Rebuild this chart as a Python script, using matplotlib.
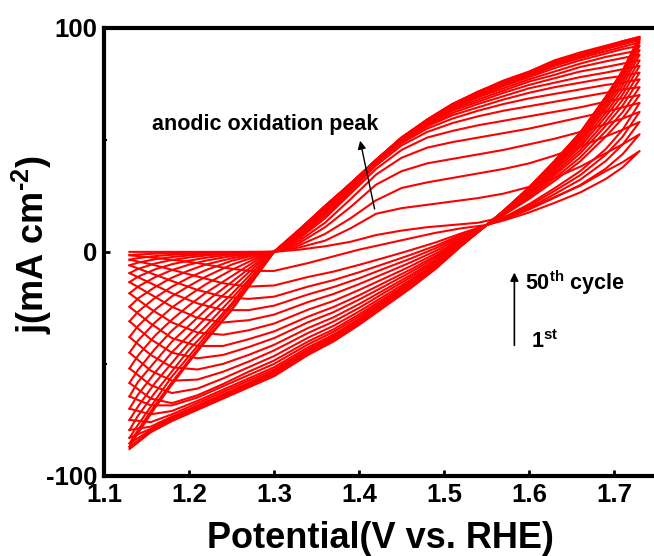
import matplotlib
matplotlib.use('Agg')
import matplotlib.pyplot as plt
from matplotlib.ticker import FixedLocator

plt.rcParams['font.family'] = ['Liberation Sans', 'DejaVu Sans']
plt.rcParams['font.weight'] = 'bold'
plt.rcParams['axes.unicode_minus'] = False
plt.rcParams['mathtext.fontset'] = 'custom'
plt.rcParams['mathtext.rm'] = 'Liberation Sans:bold'
plt.rcParams['mathtext.it'] = 'Liberation Sans:bold'
plt.rcParams['mathtext.bf'] = 'Liberation Sans:bold'
plt.rcParams['mathtext.default'] = 'rm'

# potentials (V vs RHE) of the read-off points
E_fwd_low = [1.13, 1.14, 1.16, 1.18, 1.20, 1.22, 1.25, 1.28]
E_fwd_high = [1.30, 1.33, 1.36, 1.39, 1.42, 1.45, 1.48, 1.51, 1.54, 1.57,
              1.60, 1.63, 1.66, 1.69, 1.71, 1.73]
E_rev_high = [1.73, 1.71, 1.69, 1.66, 1.63, 1.60, 1.57, 1.55]
E_rev_mid = [1.52, 1.49, 1.46, 1.43, 1.40, 1.37, 1.34, 1.30]
E_rev_low = [1.27, 1.24, 1.21, 1.18, 1.155, 1.13]

# current density (mA cm-2), one row per plotted cycle, 1st -> 50th
# anodic sweep 1.13 - 1.28 V
fwd_low = [
    [0, 0, 0, 0, 0, 0, 0, 0],
    [-1.5, -1.2, -0.8, -0.6, -0.4, -0.3, -0.1, 0],
    [-3.5, -2.8, -1.9, -1.3, -0.9, -0.6, -0.3, -0.1],
    [-6, -4.8, -3.3, -2.3, -1.6, -1, -0.5, -0.1],
    [-9.5, -7.6, -5.2, -3.6, -2.5, -1.6, -0.8, -0.2],
    [-13.5, -11.1, -7.8, -5.5, -3.9, -2.6, -1.2, -0.3],
    [-18.5, -15.5, -11.3, -8.1, -5.7, -3.9, -1.9, -0.6],
    [-24.5, -20.8, -15.7, -11.5, -8.3, -5.6, -2.9, -0.7],
    [-31, -26.7, -20.5, -15.5, -11.5, -8.1, -4, -1.2],
    [-38, -33.1, -25.8, -19.8, -15.2, -11, -5.7, -1.9],
    [-45, -39.6, -31.5, -24.8, -19.4, -14.4, -8.1, -2.7],
    [-52, -46.3, -37.4, -30.2, -23.9, -18.2, -10.9, -3.6],
    [-58.5, -52.7, -43.3, -35.1, -28.7, -22.2, -13.5, -4.7],
    [-64.5, -58, -49, -40, -32.9, -25.8, -16.1, -5.8],
    [-70, -63.7, -53.9, -44.8, -37.1, -29.4, -18.9, -7],
    [-75, -69, -58.5, -49.5, -40.5, -33, -21, -8.3],
    [-79.5, -73.1, -62.8, -53.3, -43.7, -35.8, -23.1, -8.7],
    [-83, -77.2, -66.4, -55.6, -46.5, -37.4, -24.1, -10],
    [-85.5, -79.5, -68.4, -58.1, -48.3, -38.9, -25.7, -10.3],
    [-87, -80.9, -69.6, -59.2, -49.2, -39.6, -26.1, -10.4],
]

# anodic sweep 1.30 - 1.73 V
fwd_high = [
    [0, 1, 2.5, 4.5, 7.5, 9.5, 11, 12, 13, 15.5, 19.5, 24.5, 29.5, 36, 40, 45],
    [0, 2, 5, 10.5, 17, 19.5, 21, 22.5, 24, 26, 29, 33, 38, 44, 48, 52.5],
    [0, 3, 8, 15, 23, 28.5, 31, 33, 35, 37, 39.5, 43, 47, 51.5, 54.5, 58],
    [0, 4, 11, 20, 30, 36, 39.5, 41.5, 43.5, 45.5, 48, 50.5, 53.5, 57, 59.5, 62.5],
    [0, 5, 13, 23.5, 34.5, 42, 46.5, 49, 51, 53, 55, 57.5, 60, 62.5, 64.5, 66.5],
    [0, 6, 15, 26, 37, 45.5, 51, 54, 56.5, 58.5, 60.5, 62.5, 64.5, 67, 68.5, 70],
    [0, 6.5, 16, 27, 38.5, 47.5, 53.5, 57.5, 60.5, 63, 65, 67, 69, 71, 72.5, 73.5],
    [0, 7, 17, 28, 39.5, 48.5, 55, 59.5, 63, 66, 68.5, 70.5, 72.5, 74.5, 75.5, 77],
    [0, 7.5, 17.5, 28.5, 40, 49, 56, 61, 64.5, 68, 71, 73.5, 75.5, 77.5, 78.5, 80],
    [0, 8, 18, 29, 40, 49.5, 56.5, 62, 66, 69.5, 73, 75.5, 78, 80, 81.5, 83],
    [0, 8.5, 18.5, 29.5, 40.5, 50, 57, 63, 67, 71, 74.5, 77.5, 80.5, 82.5, 84, 85.5],
    [0, 9, 19, 29.5, 40.5, 50, 57.5, 63.5, 68, 72, 76, 79, 82.5, 85, 86.5, 88],
    [0, 9, 19.5, 30, 40.5, 50.5, 58, 64, 69, 73, 77, 80.5, 84, 87, 88.5, 90],
    [0, 9.5, 19.5, 30, 41, 50.5, 58, 64.5, 69.5, 74, 78, 82, 85.5, 88.5, 90.5, 92],
    [0, 9.5, 20, 30, 41, 50.5, 58.5, 65, 70, 74.5, 78.5, 83, 86.5, 89.5, 91.5, 93.5],
    [0, 9.5, 20, 30.5, 41, 51, 58.5, 65.5, 70.5, 75, 79, 83.5, 87, 90.5, 92.5, 94.5],
    [0, 10, 20, 30.5, 41, 51, 58.5, 65.5, 71, 75.5, 79.5, 84, 87.5, 91, 93, 95],
    [0, 10, 20.5, 30.5, 41, 51, 59, 66, 71, 76, 80, 84.5, 88, 91.5, 93.5, 95.5],
    [0, 10, 20.5, 30.5, 41, 51, 59, 66, 71.5, 76, 80, 85, 88.5, 91.5, 94, 95.8],
    [0, 10, 20.5, 30.5, 41, 51, 59, 66, 71.5, 76.5, 80.5, 85.5, 89, 92, 94, 96],
]

# cathodic sweep 1.73 - 1.55 V
rev_high = [
    [45, 37.7, 32.5, 26.5, 21.9, 17.6, 14, 12],
    [52.5, 43.6, 37.1, 29.8, 24.2, 18.9, 14.4, 12],
    [58, 47.9, 40.5, 32.2, 25.8, 19.8, 14.8, 12],
    [62.5, 51.4, 43.3, 34.2, 27.2, 20.6, 15, 12],
    [66.5, 54.5, 45.8, 36, 28.4, 21.3, 15.3, 12],
    [70, 59.6, 51.4, 40.4, 31.7, 23.6, 16.4, 12],
    [73.5, 62.4, 53.8, 42.1, 32.9, 24.3, 16.6, 12],
    [77, 65.3, 56.2, 43.9, 34.1, 25, 16.9, 12],
    [80, 67.8, 58.2, 45.3, 35.1, 25.6, 17.1, 12],
    [83, 70.2, 60.3, 46.8, 36.1, 26.2, 17.3, 12],
    [85.5, 72.3, 62, 48, 37, 26.7, 17.5, 12],
    [88, 74.3, 63.7, 49.2, 37.8, 27.2, 17.7, 12],
    [90, 76, 65, 50.2, 38.5, 27.6, 17.9, 12],
    [92, 77.6, 66.4, 51.2, 39.2, 28, 18, 12],
    [93.5, 78.8, 67.4, 51.9, 39.7, 28.3, 18.1, 12],
    [94.5, 79.7, 68.1, 52.4, 40.1, 28.5, 18.2, 12],
    [95, 80.1, 68.4, 52.7, 40.2, 28.6, 18.2, 12],
    [95.5, 80.5, 68.8, 52.9, 40.4, 28.7, 18.3, 12],
    [95.8, 80.7, 69, 53.1, 40.5, 28.8, 18.3, 12],
    [96, 80.9, 69.1, 53.2, 40.6, 28.8, 18.3, 12],
]

# cathodic sweep 1.52 - 1.30 V
rev_mid = [
    [10.5, 8.5, 6, 3.5, 1, -2, -5, -8.5],
    [8.2, 4.2, 0.7, -2.6, -5.8, -8.8, -11.2, -15],
    [7.5, 2.7, -1.4, -5.3, -9.1, -12.6, -15.5, -20],
    [7, 1.6, -3.1, -7.4, -11.8, -15.7, -19, -24],
    [6.4, 0.4, -4.8, -9.6, -14.4, -18.8, -22.4, -28],
    [5.8, -0.8, -6.5, -11.8, -17, -21.9, -25.8, -32],
    [5.4, -1.8, -8, -13.7, -19.4, -24.6, -28.9, -35.5],
    [4.9, -2.6, -9.2, -15.3, -21.3, -26.9, -31.4, -38.5],
    [4.5, -3.5, -10.5, -16.9, -23.3, -29.2, -34, -41.5],
    [4.2, -4.2, -11.5, -18.2, -25, -31.1, -36.2, -44],
    [3.8, -5, -12.6, -19.6, -26.6, -33, -38.3, -46.5],
    [3.5, -5.5, -13.4, -20.7, -27.9, -34.6, -40, -48.5],
    [3.3, -6, -14, -21.5, -28.9, -35.7, -41.3, -50],
    [3.1, -6.4, -14.7, -22.3, -29.9, -36.9, -42.6, -51.5],
    [3, -6.7, -15.1, -22.8, -30.6, -37.7, -43.5, -52.5],
    [2.9, -6.9, -15.4, -23.3, -31.1, -38.3, -44.2, -53.3],
    [2.8, -7.1, -15.7, -23.6, -31.6, -38.8, -44.8, -54],
    [2.7, -7.3, -15.9, -23.9, -31.9, -39.2, -45.2, -54.5],
    [2.6, -7.4, -16.1, -24.2, -32.2, -39.6, -45.6, -55],
    [2.6, -7.6, -16.4, -24.5, -32.6, -40, -46, -55.5],
]

# cathodic sweep 1.27 - 1.13 V
rev_low = [
    [-8.5, -7, -5, -3.5, -2.5, -1.5],
    [-15.5, -14, -11, -8, -5.5, -3.5],
    [-21, -20, -17, -13, -9.5, -6],
    [-26, -26, -23, -18.5, -14, -9.5],
    [-30.5, -31.5, -29.5, -24.5, -19, -13.5],
    [-35, -37, -36, -31.5, -25.5, -18.5],
    [-39, -42, -42, -38.5, -32, -24.5],
    [-42.5, -46, -47.5, -45, -39, -31],
    [-46, -50, -52.5, -51.5, -46, -38],
    [-49, -53.5, -57, -57.5, -53, -45],
    [-51.5, -56.5, -61, -63, -59.5, -52],
    [-53.5, -59, -64, -67.5, -65.5, -58.5],
    [-55, -60, -65, -68.5, -68.5, -64.5],
    [-56.5, -61.5, -66.5, -71, -72.5, -70],
    [-57.5, -62.5, -67.5, -72.5, -76, -75],
    [-58.5, -63.5, -68.5, -73.5, -78, -79.5],
    [-59, -64, -69, -74, -79, -83],
    [-59.5, -64.5, -69.5, -74.5, -79.5, -85.5],
    [-60, -65, -70, -75, -80, -87],
    [-60.5, -65.5, -70.5, -75.5, -80.5, -88],
]

fig = plt.figure(figsize=(6.54, 5.56), dpi=100)
ax = fig.add_axes([0.159, 0.144, 0.845, 0.806])

E = E_fwd_low + E_fwd_high + E_rev_high + E_rev_mid + E_rev_low
for i in range(len(fwd_low)):
    j = fwd_low[i] + fwd_high[i] + rev_high[i] + rev_mid[i] + rev_low[i]
    ax.plot(E, j, color='red', lw=1.5, solid_joinstyle='round')

ax.set_xlim(1.1, 1.75)
ax.set_ylim(-100, 100)
ax.set_xticks([1.1, 1.2, 1.3, 1.4, 1.5, 1.6, 1.7])
ax.set_yticks([-100, 0, 100])
ax.yaxis.set_minor_locator(FixedLocator([-50, 50]))
ax.tick_params(which='major', direction='in', length=4, width=2, labelsize=18.5, pad=5)
ax.tick_params(which='minor', direction='in', length=2.5, width=1.5)
for s in ax.spines.values():
    s.set_linewidth(3)

ax.set_xlabel('Potential(V vs. RHE)', fontsize=26, fontweight='bold', va='top')
ax.xaxis.set_label_coords(0.5, -0.1)
ax.set_ylabel(r'j(mA cm$^{\text{-2}}$)', fontsize=26, fontweight='bold')
ax.yaxis.set_label_coords(-0.09, 0.517)

ax.text(1.157, 57, 'anodic oxidation peak', fontsize=15.5, fontweight='bold', va='center')
ax.annotate('', xy=(1.4006, 50.8), xytext=(1.419, 17.9),
            arrowprops=dict(arrowstyle='-|>', color='black', lw=1, mutation_scale=12))

ax.annotate('', xy=(1.5827, -8), xytext=(1.5827, -43),
            arrowprops=dict(arrowstyle='-|>', color='black', lw=1.2, mutation_scale=12))
ax.text(1.595, -17, '50$^{th}$ cycle', fontsize=15.5, fontweight='bold', va='baseline')
ax.text(1.602, -43, '1$^{st}$', fontsize=15.5, fontweight='bold', va='baseline')

fig.savefig('out.png', dpi=100)
